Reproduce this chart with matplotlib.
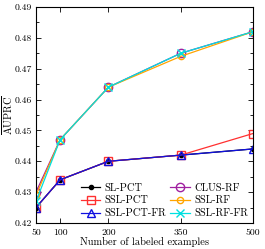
import matplotlib
matplotlib.use("Agg")
import matplotlib.pyplot as plt
from matplotlib.ticker import MultipleLocator

plt.rcParams['font.family'] = 'serif'
plt.rcParams['font.serif'] = ['cmr10', 'DejaVu Serif']
plt.rcParams['mathtext.fontset'] = 'cm'
plt.rcParams['axes.formatter.use_mathtext'] = True

n_labeled = [50, 100, 200, 350, 500]

sl_pct = [0.425, 0.434, 0.440, 0.442, 0.444]
ssl_pct = [0.425, 0.434, 0.440, 0.442, 0.449]
ssl_pct_fr = [0.425, 0.434, 0.440, 0.442, 0.444]
clus_rf = [0.430, 0.447, 0.464, 0.475, 0.482]
ssl_rf = [0.429, 0.447, 0.464, 0.474, 0.482]
ssl_rf_fr = [0.427, 0.447, 0.464, 0.475, 0.482]

fig = plt.figure(figsize=(2.65, 2.49), dpi=100)
ax = fig.add_axes([36 / 265, 26 / 249, 217 / 265, 216 / 249])

lw = 0.9
ax.plot(n_labeled, sl_pct, color='black', lw=lw, marker='o', ms=3, label='SL-PCT')
ax.plot(n_labeled, ssl_pct, color='#ff3030', lw=lw, marker='s', ms=6, mfc='none', label='SSL-PCT')
ax.plot(n_labeled, ssl_pct_fr, color='#1010e0', lw=lw, marker='^', ms=6, mfc='none', label='SSL-PCT-FR')
ax.plot(n_labeled, clus_rf, color='#a020a0', lw=lw, marker='o', ms=6, mfc='none', label='CLUS-RF')
ax.plot(n_labeled, ssl_rf, color='#ffa500', lw=lw, marker='o', ms=4.5, mfc='none', label='SSL-RF')
ax.plot(n_labeled, ssl_rf_fr, color='#00e0e0', lw=lw, marker='x', ms=6, label='SSL-RF-FR')

ax.set_xlim(50, 500)
ax.set_ylim(0.42, 0.49)
ax.set_xticks(n_labeled)
ax.set_xticklabels([str(v) for v in n_labeled])
ax.yaxis.set_major_locator(MultipleLocator(0.01))
ax.yaxis.set_minor_locator(MultipleLocator(0.005))
ax.set_yticklabels(['%.2f' % v for v in ax.get_yticks()])
ax.tick_params(which='both', direction='in', top=True, right=True, labelsize=7, pad=4)
ax.tick_params(axis='y', pad=3)
ax.tick_params(which='major', length=3.5, width=0.6)
ax.tick_params(which='minor', length=2, width=0.6)
for s in ax.spines.values():
    s.set_linewidth(0.8)

ax.set_xlabel('Number of labeled examples', fontsize=7.5)
ax.set_ylabel(r'$\overline{\mathrm{AUPRC}}$', fontsize=7.5)
ax.xaxis.set_label_coords(0.5, -0.088)
ax.yaxis.set_label_coords(-0.132, 0.5)
ax.xaxis.label.set_va('center')
ax.yaxis.label.set_va('center')

ax.legend(ncol=2, loc='lower right', frameon=False, fontsize=7.5, handlelength=1.9,
          columnspacing=0.4, handletextpad=0.4, labelspacing=0.32,
          borderaxespad=0.05)

fig.savefig('out.png', dpi=100)
